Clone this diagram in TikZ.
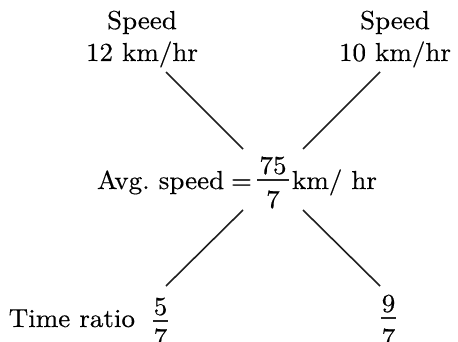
\documentclass[tikz,border=0pt]{standalone}
\usepackage{graphicx}
\usepackage{fontspec}
\setmainfont{lmroman10-regular.otf}[FakeBold=0.4]
\newcommand{\hstr}[1]{\scalebox{1.04}[1]{#1}}
\begin{document}
\begin{tikzpicture}[x=1pt,y=1pt,
  lbl/.style={inner sep=0pt, outer sep=0pt, font=\fontsize{26}{30}\selectfont, anchor=base},
  conn/.style={line width=1.6pt, black!88, line cap=butt},
  fbar/.style={line width=1.1pt, black!85}]
\useasboundingbox (0,0) rectangle (458,341);
% top labels
\node[lbl] (s1a) at (142,312) {\hstr{Speed}};
\node[lbl] (s1b) at (142,280) {\hstr{12 km/hr}};
\node[lbl] (s2a) at (395,312) {\hstr{Speed}};
\node[lbl] (s2b) at (395,280) {\hstr{10 km/hr}};
% middle fraction
\node[lbl] (mnum) at (273,167) {\hstr{75}};
\node[lbl] (mden) at (273,133) {\hstr{7}};
\coordinate (mbl) at (257,161);
\coordinate (mbr) at (289,161);
\draw[fbar] (mbl) -- (mbr);
\node[lbl, anchor=base east] (avg) at (252,152) {\hstr{Avg.\ speed\hspace{0.25em}=}};
\node[lbl, anchor=base west] (unit) at (292,152) {\hstr{km/ hr}};
% bottom
\node[lbl, anchor=base east] (tr) at (135,14) {\hstr{Time ratio}};
\node[lbl] (lnum) at (160.5,26) {\hstr{5}};
\node[lbl] (lden) at (160.5,-5) {\hstr{7}};
\coordinate (lbl1) at (153,20);
\coordinate (lbr1) at (168,20);
\draw[fbar] (lbl1) -- (lbr1);
\node[lbl] (rnum) at (388.5,29) {\hstr{9}};
\node[lbl] (rden) at (388.5,-5) {\hstr{7}};
\coordinate (rbl1) at (381,23);
\coordinate (rbr1) at (396,23);
\draw[fbar] (rbl1) -- (rbr1);
% connectors
\coordinate (a1) at (166,269);
\coordinate (a2) at (243,192);
\coordinate (b1) at (380,269);
\coordinate (b2) at (303,192);
\coordinate (c1) at (243,131);
\coordinate (c2) at (166,55);
\coordinate (d1) at (303,131);
\coordinate (d2) at (380,55);
\draw[conn] (a1) -- (a2);
\draw[conn] (b1) -- (b2);
\draw[conn] (c1) -- (c2);
\draw[conn] (d1) -- (d2);
\end{tikzpicture}
\end{document}
